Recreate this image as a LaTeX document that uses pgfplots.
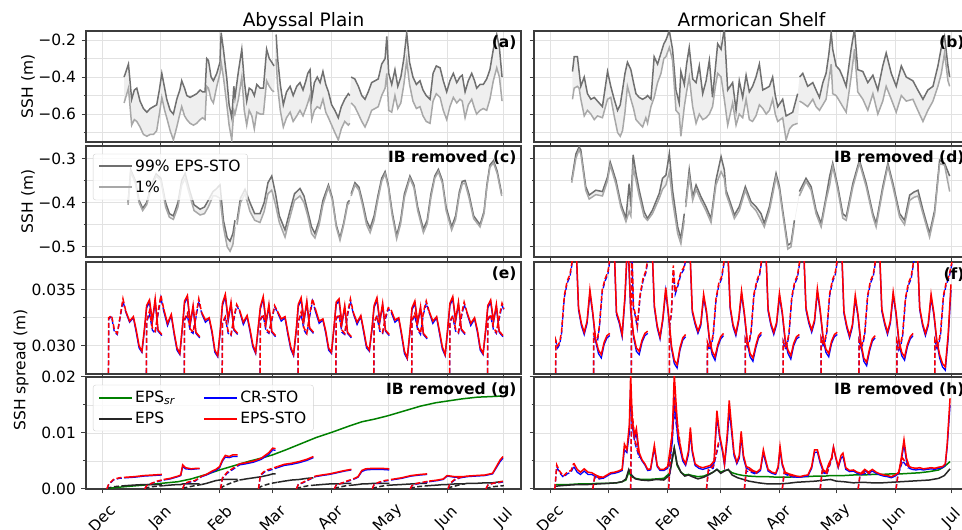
\documentclass[border=0pt]{standalone}
\usepackage{fontspec}
\setmainfont{DejaVu Sans}
\usepackage{pgfplots}
\pgfplotsset{compat=1.18}
\usepackage{pgfplotstable}
\usepgfplotslibrary{fillbetween}

\definecolor{hiline}{HTML}{707070}
\definecolor{loline}{HTML}{A8A8A8}
\definecolor{bandfill}{HTML}{EFEFEF}
\definecolor{gridc}{HTML}{E2E2E2}
\definecolor{framec}{HTML}{3C3C3C}
\definecolor{mplgreen}{HTML}{008000}

\newcommand\fs{\fontsize{15.5}{18}\selectfont}
\newcommand\fst{\fontsize{18.5}{22}\selectfont}

\tikzset{
  hi/.style={hiline, line width=1.5pt},
  lo/.style={loline, line width=1.5pt},
  dsh/.style={dash pattern=on 5pt off 2.5pt},
  rl/.style={red, line width=1.5pt},
  blt/.style={blue, line width=1.3pt},
  kl/.style={black!85, line width=1.5pt},
  gl/.style={mplgreen, line width=1.5pt},
}

\pgfplotsset{
  panel/.style={
    scale only axis, width=435pt, height=111pt,
    xmin=-8.5, xmax=221,
    xtick={0,31,62,90,121,151,182,212}, xticklabels={},
    scaled y ticks=false,
    tick align=outside, tick pos=left,
    major tick length=4.5pt, minor tick length=2.5pt,
    tick style={framec, line width=1pt},
    axis line style={framec, line width=1.1pt},
    grid=both,
    major grid style={gridc, line width=0.9pt},
    minor grid style={gridc, line width=0.9pt},
    tick label style={font=\fs},
    yticklabel style={xshift=-2pt},
    unbounded coords=jump,
  },
  botrow/.style={xticklabels={Dec,Jan,Feb,Mar,Apr,May,Jun,Jul},
    xticklabel style={yshift=-25pt, rotate=45, anchor=center}},
  lgd/.style={legend cell align=left,
    legend image code/.code={\draw[##1, line width=2pt, solid] (0pt,0pt) -- (33pt,0pt);},
    legend style={at={(0.016,0.93)}, anchor=north west, draw=black!18,
    rounded corners=2.5pt, fill=white, fill opacity=0.8, text opacity=1,
    draw opacity=1, font=\fs, inner xsep=5pt, inner ysep=4pt, row sep=4pt}},
}

% ---------- percentiles, Abyssal Plain, full SSH ----------
\pgfplotstableread{
d hi lo
11.6 -0.40 -0.54
13.9 -0.33 -0.46
15.6 -0.52 -0.66
17.0 -0.47 -0.63
18.3 -0.46 -0.64
20.0 -0.53 -0.67
21.8 -0.57 -0.71
23.6 -0.59 -0.72
25.4 -0.57 -0.71
27.1 -0.56 -0.71
28.8 -0.55 -0.69
30.2 -0.47 -0.60
31.5 -0.38 -0.51
33.0 -0.46 -0.58
34.1 -0.52 -0.62
35.9 -0.58 -0.69
37.6 -0.60 -0.74
39.4 -0.52 -0.67
41.0 -0.47 -0.60
42.0 -0.42 -0.56
43.5 -0.46 -0.61
44.7 -0.50 -0.63
46.4 -0.51 -0.65
48.2 -0.50 -0.66
49.9 -0.49 -0.65
51.7 -0.47 -0.63
53.0 -0.48 -0.62
54.3 -0.48 -0.63
55.2 -0.30 -0.45
56.1 -0.31 -0.46
57.5 -0.40 -0.52
58.7 -0.42 -0.54
60.5 -0.38 -0.45
62.2 -0.32 -0.38
62.8 -0.16 -0.32
64.0 -0.25 -0.40
65.8 -0.41 -0.55
67.0 -0.55 -0.66
68.4 -0.62 -0.74
69.5 -0.45 -0.58
70.1 -0.51 -0.60
71.9 -0.37 -0.52
73.7 -0.25 -0.40
75.0 -0.42 -0.58
76.3 -0.53 -0.66
77.6 -0.46 -0.58
79.0 -0.47 -0.61
80.3 -0.50 -0.68
81.6 -0.44 -0.59
83.4 -0.46 -0.60
85.1 -0.46 -0.60
86.8 -0.25 -0.42
88.2 -0.30 -0.45
89.5 -0.32 -0.47
90.7 -0.34 -0.48
91.3 nan nan
91.8 -0.17 -0.30
92.6 -0.30 -0.45
94.0 -0.44 -0.58
95.6 -0.55 -0.67
97.3 -0.48 -0.62
99.2 -0.45 -0.59
100.8 -0.50 -0.64
102.7 -0.45 -0.61
104.4 -0.43 -0.58
106.0 -0.47 -0.61
107.5 -0.42 -0.57
108.5 -0.38 -0.54
109.7 -0.36 -0.50
110.6 -0.52 -0.63
112.0 -0.43 -0.58
113.5 -0.40 -0.56
115.0 -0.43 -0.57
116.5 -0.37 -0.52
118.0 -0.44 -0.59
119.4 -0.48 -0.62
121.1 -0.55 -0.66
122.8 -0.58 -0.70
124.6 -0.62 -0.74
126.2 -0.56 -0.68
128.0 -0.52 -0.64
129.9 -0.49 -0.66
130.7 -0.50 -0.65
131.0 nan nan
131.4 -0.40 -0.54
133.3 -0.41 -0.56
135.2 -0.45 -0.60
137.0 -0.50 -0.64
138.7 -0.52 -0.67
140.4 -0.48 -0.63
142.2 -0.43 -0.58
144.0 -0.42 -0.57
145.7 -0.41 -0.56
147.5 -0.33 -0.50
149.3 -0.30 -0.46
150.2 -0.18 -0.38
151.2 -0.38 -0.58
152.8 -0.44 -0.59
154.5 -0.36 -0.50
156.0 -0.45 -0.57
157.6 -0.40 -0.54
159.2 -0.30 -0.44
160.7 -0.16 -0.31
162.2 -0.32 -0.44
164.0 -0.40 -0.53
165.8 -0.44 -0.57
167.7 -0.42 -0.56
169.3 -0.47 -0.61
171.0 -0.50 -0.64
173.0 -0.52 -0.65
174.6 -0.38 -0.53
176.3 -0.34 -0.49
178.3 -0.35 -0.51
180.0 -0.42 -0.58
181.8 -0.48 -0.63
183.5 -0.42 -0.56
185.3 -0.38 -0.51
187.1 -0.43 -0.54
188.8 -0.40 -0.52
190.0 -0.39 -0.53
191.5 -0.48 -0.62
193.2 -0.42 -0.55
195.0 -0.38 -0.52
196.5 -0.42 -0.57
197.6 -0.46 -0.60
199.4 -0.44 -0.58
201.1 -0.44 -0.57
202.9 -0.41 -0.58
204.6 -0.36 -0.52
206.4 -0.25 -0.42
208.2 -0.17 -0.35
209.6 -0.24 -0.40
211.0 -0.40 -0.53
}\tabA

% ---------- percentiles, Armorican Shelf, full SSH ----------
\pgfplotstableread{
d hi lo
11.8 -0.37 -0.52
12.7 -0.29 -0.46
14.4 -0.29 -0.45
15.3 -0.37 -0.46
16.2 -0.45 -0.52
18.0 -0.40 -0.61
19.7 -0.49 -0.58
21.5 -0.52 -0.60
23.3 -0.51 -0.63
25.0 -0.53 -0.61
27.6 -0.56 -0.62
30.3 -0.37 -0.52
32.0 -0.45 -0.51
33.8 -0.52 -0.61
35.6 -0.58 -0.70
37.0 -0.55 -0.72
38.2 -0.47 -0.69
39.5 -0.38 -0.59
40.8 -0.32 -0.45
42.6 -0.36 -0.52
44.0 -0.43 -0.57
45.3 -0.49 -0.63
47.0 -0.51 -0.65
48.8 -0.52 -0.67
50.5 -0.51 -0.62
51.4 -0.50 -0.65
53.2 -0.52 -0.56
54.9 -0.29 -0.51
56.7 -0.33 -0.43
58.5 -0.27 -0.38
60.0 -0.22 -0.30
61.1 -0.20 -0.29
62.9 -0.15 -0.24
64.6 -0.25 -0.31
66.4 -0.47 -0.58
68.1 -0.54 -0.60
69.0 -0.37 -0.72
70.8 -0.44 -0.56
72.0 -0.33 -0.48
73.4 -0.24 -0.40
75.2 -0.41 -0.56
77.0 -0.43 -0.65
78.7 -0.34 -0.60
80.5 -0.49 -0.63
82.3 -0.42 -0.62
84.0 -0.31 -0.60
85.7 -0.51 -0.56
87.2 -0.35 -0.45
88.4 -0.22 -0.38
90.2 -0.25 -0.40
91.9 -0.14 -0.52
93.7 -0.47 -0.66
95.0 -0.45 -0.60
96.3 -0.43 -0.54
98.1 -0.58 -0.66
99.8 -0.42 -0.60
101.6 -0.51 -0.62
103.4 -0.39 -0.52
105.1 -0.48 -0.63
106.8 -0.45 -0.64
108.6 -0.40 -0.61
110.4 -0.33 -0.55
112.2 -0.47 -0.57
114.0 -0.46 -0.60
115.7 -0.45 -0.58
117.4 -0.40 -0.52
118.8 -0.50 -0.60
120.1 -0.56 -0.64
122.7 -0.52 -0.62
124.5 -0.61 -0.74
126.3 -0.60 -0.68
128.0 -0.59 -0.66
130.6 -0.49 -0.65
131.2 nan nan
131.6 -0.40 -0.53
133.3 -0.38 -0.54
135.9 -0.45 -0.56
138.6 -0.43 -0.52
140.3 -0.47 -0.56
142.1 -0.51 -0.58
143.9 -0.43 -0.55
145.6 -0.38 -0.52
147.0 -0.28 -0.42
148.3 -0.16 -0.33
149.1 -0.25 -0.49
150.9 -0.34 -0.50
152.7 -0.36 -0.53
154.4 -0.40 -0.56
156.2 -0.45 -0.59
158.8 -0.25 -0.40
160.6 -0.14 -0.25
162.3 -0.36 -0.48
165.0 -0.37 -0.52
167.6 -0.43 -0.58
170.3 -0.39 -0.49
172.9 -0.47 -0.60
175.5 -0.34 -0.53
177.3 -0.27 -0.45
180.0 -0.38 -0.52
182.6 -0.45 -0.59
185.3 -0.34 -0.50
187.9 -0.40 -0.53
191.4 -0.42 -0.52
194.0 -0.47 -0.58
196.7 -0.52 -0.64
199.3 -0.47 -0.58
202.0 -0.45 -0.53
204.6 -0.34 -0.45
206.4 -0.24 -0.38
208.1 -0.18 -0.27
209.9 -0.34 -0.42
210.8 -0.40 -0.45
}\tabB

% ---------- percentiles, Abyssal Plain, IB removed ----------
\pgfplotstableread{
d hi lo
13.7 -0.400 -0.405
15.1 -0.326 -0.330
17.5 -0.350 -0.355
19.5 -0.395 -0.400
21.4 -0.413 -0.418
23.5 -0.400 -0.405
26.0 -0.360 -0.365
28.5 -0.335 -0.340
31.0 -0.345 -0.350
33.5 -0.400 -0.410
35.5 -0.425 -0.433
37.6 -0.430 -0.438
40.0 -0.400 -0.410
42.0 -0.350 -0.360
43.8 -0.334 -0.345
46.0 -0.370 -0.380
48.5 -0.405 -0.418
51.7 -0.415 -0.428
54.0 -0.410 -0.425
56.0 -0.395 -0.410
58.5 -0.375 -0.385
60.0 -0.370 -0.385
62.2 -0.360 -0.390
64.0 -0.440 -0.455
66.0 -0.480 -0.500
67.5 -0.487 -0.510
69.0 -0.470 -0.495
70.1 -0.440 -0.455
71.0 nan nan
71.2 -0.440 -0.450
73.0 -0.390 -0.400
75.4 -0.370 -0.380
78.0 -0.400 -0.420
80.5 -0.425 -0.440
83.3 -0.425 -0.445
85.5 -0.400 -0.420
87.5 -0.355 -0.380
89.5 -0.340 -0.372
91.5 -0.380 -0.405
93.5 -0.430 -0.445
96.5 -0.462 -0.478
99.0 -0.420 -0.435
101.5 -0.380 -0.395
104.4 -0.368 -0.385
106.5 -0.385 -0.400
108.5 -0.420 -0.430
110.5 -0.455 -0.470
112.3 -0.470 -0.480
114.5 -0.440 -0.450
116.5 -0.395 -0.405
119.4 -0.360 -0.365
121.5 -0.390 -0.395
123.5 -0.450 -0.455
125.5 -0.480 -0.485
127.5 -0.445 -0.450
129.5 -0.400 -0.405
130.5 -0.395 -0.400
131.0 nan nan
131.4 -0.380 -0.385
133.4 -0.355 -0.360
135.5 -0.365 -0.372
137.5 -0.400 -0.408
139.5 -0.440 -0.450
141.4 -0.458 -0.468
143.5 -0.430 -0.440
145.5 -0.385 -0.393
147.5 -0.345 -0.352
149.3 -0.330 -0.335
151.0 -0.360 -0.365
153.0 -0.420 -0.428
155.4 -0.475 -0.482
157.5 -0.440 -0.448
159.5 -0.380 -0.388
162.4 -0.340 -0.345
164.5 -0.360 -0.366
166.5 -0.410 -0.418
169.5 -0.460 -0.468
171.5 -0.440 -0.448
173.5 -0.380 -0.388
175.5 -0.340 -0.345
177.4 -0.325 -0.330
179.5 -0.350 -0.356
181.5 -0.410 -0.418
184.4 -0.455 -0.462
186.5 -0.430 -0.438
188.5 -0.375 -0.382
190.0 -0.352 -0.358
191.5 -0.350 -0.356
193.5 -0.380 -0.388
196.0 -0.430 -0.436
199.4 -0.450 -0.455
201.5 -0.420 -0.425
203.0 -0.360 -0.365
204.6 -0.315 -0.320
206.5 -0.305 -0.310
208.5 -0.330 -0.335
210.8 -0.380 -0.385
}\tabC

% ---------- percentiles, Armorican Shelf, IB removed ----------
\pgfplotstableread{
d hi lo
11.4 -0.349 -0.355
13.6 -0.290 -0.300
15.3 -0.274 -0.280
16.2 -0.281 -0.290
18.8 -0.364 -0.372
20.6 -0.383 -0.392
24.1 -0.372 -0.382
27.6 -0.375 -0.385
30.3 -0.342 -0.350
31.7 -0.308 -0.315
34.7 -0.349 -0.358
37.3 -0.402 -0.410
40.0 -0.436 -0.443
41.7 -0.357 -0.420
42.6 -0.409 -0.430
43.8 -0.292 -0.320
45.3 -0.334 -0.350
47.0 -0.372 -0.385
49.6 -0.421 -0.432
51.4 -0.436 -0.440
54.0 -0.417 -0.425
57.6 -0.379 -0.390
59.3 -0.345 -0.370
61.1 -0.338 -0.360
62.9 -0.289 -0.330
64.6 -0.372 -0.395
67.3 -0.455 -0.470
69.0 -0.481 -0.493
70.8 -0.425 -0.440
71.3 nan nan
71.6 -0.400 -0.410
73.4 -0.326 -0.340
75.2 -0.387 -0.395
77.0 -0.360 -0.370
79.6 -0.387 -0.396
82.2 -0.409 -0.418
84.9 -0.436 -0.445
87.5 -0.349 -0.360
90.2 -0.296 -0.330
91.9 -0.326 -0.345
92.8 -0.372 -0.380
94.6 -0.394 -0.402
97.2 -0.428 -0.436
99.8 -0.409 -0.418
103.0 -0.364 -0.372
106.0 -0.398 -0.406
108.6 -0.409 -0.418
111.3 -0.425 -0.440
113.0 -0.447 -0.455
115.7 -0.409 -0.418
117.5 -0.370 -0.380
119.2 -0.334 -0.342
121.0 -0.364 -0.372
122.7 -0.417 -0.425
125.4 -0.496 -0.505
127.1 -0.492 -0.500
128.9 -0.440 -0.447
131.2 nan nan
131.5 -0.375 -0.385
135.0 -0.345 -0.352
137.7 -0.364 -0.372
140.3 -0.417 -0.425
143.0 -0.447 -0.455
145.6 -0.387 -0.395
147.5 -0.340 -0.360
149.1 -0.311 -0.318
151.8 -0.364 -0.372
154.4 -0.425 -0.435
156.2 -0.432 -0.440
159.7 -0.357 -0.365
163.2 -0.304 -0.310
166.8 -0.357 -0.365
170.3 -0.425 -0.432
172.0 -0.447 -0.455
175.5 -0.364 -0.372
178.2 -0.311 -0.317
180.9 -0.357 -0.365
184.4 -0.425 -0.433
187.0 -0.440 -0.450
189.7 -0.383 -0.395
192.0 -0.376 -0.388
194.1 -0.372 -0.385
196.7 -0.417 -0.425
200.2 -0.470 -0.478
202.9 -0.417 -0.425
205.5 -0.304 -0.312
208.1 -0.311 -0.315
210.8 -0.340 -0.375
}\tabD

% ---------- spread, Abyssal Plain, full SSH: solid / dashed ----------
\pgfplotstableread{
d r b
12.5 .0331 .0330
14.5 .0322 .0321
16.5 .0326 .0325
18 .0314 .0312
19.5 .0300 .0298
21 .0295 .0294
22.5 .0318 .0316
23.5 .0336 .0334
25 .0341 .0339
26.5 .0322 .0321
28 .0342 .0340
29.5 .0314 .0313
31.5 .0310 .0309
32 nan nan
32.5 .0333 .0331
34.5 .0320 .0318
36.5 .0328 .0327
38 .0312 .0310
39.5 .0298 .0296
41 .0293 .0292
42.5 .0320 .0318
43.5 .0340 .0338
45 .0345 .0343
46.5 .0320 .0319
48 .0336 .0334
49.5 .0312 .0311
51.5 .0308 .0307
52 nan nan
52.5 .0330 .0329
54.5 .0323 .0321
56.5 .0325 .0324
58 .0313 .0311
59.5 .0296 .0294
61 .0291 .0290
62.5 .0317 .0315
63.5 .0338 .0336
65 .0346 .0344
66.5 .0324 .0322
68 .0339 .0337
69.5 .0315 .0314
71.5 .0311 .0310
72 nan nan
72.5 .0332 .0331
74.5 .0321 .0319
76.5 .0327 .0326
78 .0315 .0313
79.5 .0301 .0299
81 .0294 .0293
82.5 .0319 .0317
83.5 .0335 .0333
85 .0344 .0342
86.5 .0321 .0320
88 .0337 .0335
89.5 .0313 .0312
91.5 .0309 .0308
92 nan nan
92.5 .0331 .0330
94.5 .0324 .0322
96.5 .0326 .0325
98 .0312 .0310
99.5 .0299 .0297
101 .0292 .0291
102.5 .0316 .0314
103.5 .0337 .0335
105 .0343 .0341
106.5 .0323 .0322
108 .0340 .0338
109.5 .0316 .0315
111.5 .0312 .0311
112 nan nan
112.5 .0333 .0331
114.5 .0322 .0320
116.5 .0324 .0323
118 .0313 .0311
119.5 .0298 .0296
121 .0294 .0293
122.5 .0320 .0318
123.5 .0339 .0337
125 .0342 .0340
126.5 .0320 .0319
128 .0336 .0334
129.5 .0312 .0311
131.5 .0308 .0307
132 nan nan
132.5 .0330 .0329
134.5 .0321 .0319
136.5 .0327 .0326
138 .0314 .0312
139.5 .0300 .0298
141 .0296 .0295
142.5 .0318 .0316
143.5 .0336 .0334
145 .0343 .0341
146.5 .0322 .0321
148 .0338 .0336
149.5 .0314 .0313
151.5 .0310 .0309
152 nan nan
152.5 .0332 .0330
154.5 .0323 .0321
156.5 .0325 .0324
158 .0311 .0309
159.5 .0295 .0293
161 .0289 .0288
162.5 .0315 .0313
163.5 .0334 .0332
165 .0340 .0338
166.5 .0321 .0320
168 .0335 .0333
169.5 .0311 .0310
171.5 .0307 .0306
172 nan nan
172.5 .0331 .0330
174.5 .0322 .0320
176.5 .0326 .0325
178 .0313 .0311
179.5 .0299 .0297
181 .0292 .0291
182.5 .0319 .0317
183.5 .0338 .0336
185 .0344 .0342
186.5 .0323 .0322
188 .0339 .0337
189.5 .0315 .0314
191.5 .0311 .0310
192 nan nan
192.5 .0330 .0329
194.5 .0320 .0318
196.5 .0325 .0324
198 .0314 .0312
199.5 .0298 .0296
201 .0293 .0292
202.5 .0317 .0315
203.5 .0336 .0334
205 .0341 .0339
206.5 .0322 .0321
208 .0337 .0335
209.5 .0313 .0312
211.5 .0309 .0308
}\tabEs

\pgfplotstableread{
d r b
2.5 0 0
3.5 .0325 .0324
5 .0327 .0326
6.5 .0314 .0312
8 .0311 .0310
9.5 .0326 .0325
11 .0342 .0340
12.5 .0331 .0330
13 nan nan
22.5 0 0
23.5 .0322 .0321
25 .0331 .0329
26.5 .0316 .0314
28 .0313 .0311
29.5 .0330 .0328
31 .0345 .0343
32.5 .0333 .0331
33 nan nan
42.5 0 0
43.5 .0324 .0323
45 .0329 .0327
46.5 .0315 .0313
48 .0312 .0311
49.5 .0327 .0325
51 .0342 .0340
52.5 .0330 .0329
53 nan nan
62.5 0 0
63.5 .0321 .0320
65 .0326 .0325
66.5 .0313 .0311
68 .0310 .0309
69.5 .0325 .0323
71 .0337 .0336
72.5 .0332 .0331
73 nan nan
82.5 0 0
83.5 .0324 .0323
85 .0328 .0327
86.5 .0315 .0313
88 .0312 .0311
89.5 .0324 .0322
91 .0336 .0335
92.5 .0331 .0330
93 nan nan
102.5 0 0
103.5 .0322 .0321
105 .0330 .0328
106.5 .0316 .0314
108 .0311 .0310
109.5 .0328 .0326
111 .0342 .0340
112.5 .0333 .0331
113 nan nan
122.5 0 0
123.5 .0325 .0324
125 .0328 .0327
126.5 .0314 .0312
128 .0311 .0310
129.5 .0329 .0327
131 .0342 .0340
132.5 .0330 .0329
133 nan nan
142.5 0 0
143.5 .0321 .0320
145 .0327 .0326
146.5 .0315 .0313
148 .0312 .0311
149.5 .0326 .0324
151 .0334 .0333
152.5 .0332 .0330
153 nan nan
162.5 0 0
163.5 .0323 .0322
165 .0329 .0327
166.5 .0316 .0314
168 .0311 .0310
169.5 .0330 .0328
171 .0340 .0338
172.5 .0331 .0330
173 nan nan
182.5 0 0
183.5 .0322 .0321
185 .0327 .0326
186.5 .0315 .0313
188 .0312 .0311
189.5 .0327 .0325
191 .0339 .0337
192.5 .0330 .0329
193 nan nan
202.5 0 0
203.5 .0324 .0323
205 .0328 .0327
206.5 .0316 .0314
208 .0312 .0311
209.5 .0326 .0324
211 .0338 .0336
212 .0333 .0332
}\tabEd

% ---------- spread, Armorican Shelf, full SSH: solid / dashed ----------
\pgfplotstableread{
d r b
12.5 .0385 .0383
13.5 .0400 .0398
15 .0334 .0332
16.5 .0320 .0318
18 .0312 .0310
19.5 .0322 .0320
21 .0350 .0347
22.5 .0330 .0328
24 .0306 .0304
25.5 .0296 .0293
27 .0292 .0289
28.5 .0303 .0301
30 .0309 .0307
31.5 .0311 .0309
32 nan nan
32.5 .0390 .0388
33.5 .0405 .0403
35 .0330 .0328
36.5 .0322 .0320
38 .0310 .0308
39.5 .0345 .0342
41 .0400 .0396
42.5 .0334 .0331
44 .0310 .0308
45.5 .0298 .0295
47 .0295 .0292
48.5 .0305 .0303
50 .0311 .0309
51.5 .0313 .0311
52 nan nan
52.5 .0388 .0386
53.5 .0402 .0400
55 .0336 .0334
56.5 .0318 .0316
58 .0308 .0306
59.5 .0325 .0323
61 .0352 .0349
62.5 .0328 .0326
64 .0300 .0298
65.5 .0287 .0284
67 .0283 .0280
68.5 .0298 .0296
70 .0307 .0305
71.5 .0310 .0308
72 nan nan
72.5 .0386 .0384
73.5 .0398 .0396
75 .0332 .0330
76.5 .0321 .0319
78 .0313 .0311
79.5 .0320 .0318
81 .0346 .0343
82.5 .0331 .0329
84 .0307 .0305
85.5 .0295 .0292
87 .0290 .0287
88.5 .0301 .0299
90 .0308 .0306
91.5 .0311 .0309
92 nan nan
92.5 .0384 .0382
93.5 .0396 .0394
95 .0335 .0333
96.5 .0319 .0317
98 .0311 .0309
99.5 .0324 .0322
101 .0349 .0346
102.5 .0329 .0327
104 .0305 .0303
105.5 .0293 .0290
107 .0289 .0286
108.5 .0300 .0298
110 .0309 .0307
111.5 .0312 .0310
112 nan nan
112.5 .0387 .0385
113.5 .0401 .0399
115 .0333 .0331
116.5 .0320 .0318
118 .0312 .0310
119.5 .0321 .0319
121 .0347 .0344
122.5 .0330 .0328
124 .0306 .0304
125.5 .0296 .0293
127 .0291 .0288
128.5 .0302 .0300
130 .0308 .0306
131.5 .0310 .0308
132 nan nan
132.5 .0385 .0383
133.5 .0399 .0397
135 .0334 .0332
136.5 .0322 .0320
138 .0314 .0312
139.5 .0323 .0321
141 .0351 .0348
142.5 .0332 .0330
144 .0308 .0306
145.5 .0297 .0294
147 .0293 .0290
148.5 .0304 .0302
150 .0310 .0308
151.5 .0312 .0310
152 nan nan
152.5 .0389 .0387
153.5 .0403 .0401
155 .0331 .0329
156.5 .0318 .0316
158 .0309 .0307
159.5 .0319 .0317
161 .0345 .0342
162.5 .0327 .0325
164 .0302 .0300
165.5 .0289 .0286
167 .0285 .0282
168.5 .0297 .0295
170 .0306 .0304
171.5 .0309 .0307
172 nan nan
172.5 .0386 .0384
173.5 .0400 .0398
175 .0333 .0331
176.5 .0321 .0319
178 .0312 .0310
179.5 .0322 .0320
181 .0348 .0345
182.5 .0330 .0328
184 .0305 .0303
185.5 .0294 .0291
187 .0290 .0287
188.5 .0301 .0299
190 .0308 .0306
191.5 .0311 .0309
192 nan nan
192.5 .0384 .0382
193.5 .0397 .0395
195 .0334 .0332
196.5 .0320 .0318
198 .0311 .0309
199.5 .0320 .0318
201 .0346 .0343
202.5 .0329 .0327
204 .0305 .0303
205.5 .0292 .0289
207 .0284 .0281
208.5 .0281 .0278
210 .0310 .0306
211.5 .0355 .0350
}\tabFs

\pgfplotstableread{
d r b
2.5 0 0
3 .0305 .0304
4 .0300 .0298
5 .0303 .0301
6 .0312 .0310
7.5 .0345 .0343
9 .0358 .0356
10.5 .0364 .0362
12.5 .0385 .0383
13 nan nan
22.5 0 0
23 .0310 .0309
24 .0307 .0305
25 .0306 .0304
26 .0318 .0316
27.5 .0350 .0348
29 .0360 .0358
30.5 .0366 .0364
32.5 .0390 .0388
33 nan nan
42.5 0 0
43 .0395 .0390
44 .0335 .0333
45 .0328 .0326
46 .0318 .0316
47.5 .0346 .0344
49 .0360 .0358
50.5 .0367 .0365
52.5 .0388 .0386
53 nan nan
62.5 0 0
63 .0318 .0317
64 .0330 .0328
65 .0372 .0368
66 .0348 .0346
67.5 .0356 .0354
69 .0366 .0364
70.5 .0370 .0368
72.5 .0386 .0384
73 nan nan
82.5 0 0
83 .0303 .0302
84 .0298 .0296
85 .0302 .0300
86 .0310 .0308
87.5 .0342 .0340
89 .0356 .0354
90.5 .0362 .0360
92.5 .0384 .0382
93 nan nan
102.5 0 0
103 .0306 .0305
104 .0301 .0299
105 .0304 .0302
106 .0313 .0311
107.5 .0346 .0344
109 .0358 .0356
110.5 .0365 .0363
112.5 .0387 .0385
113 nan nan
122.5 0 0
123 .0304 .0303
124 .0299 .0297
125 .0302 .0300
126 .0311 .0309
127.5 .0344 .0342
129 .0357 .0355
130.5 .0363 .0361
132.5 .0385 .0383
133 nan nan
142.5 0 0
143 .0307 .0306
144 .0302 .0300
145 .0305 .0303
146 .0314 .0312
147.5 .0347 .0345
149 .0359 .0357
150.5 .0366 .0364
152.5 .0389 .0387
153 nan nan
162.5 0 0
163 .0305 .0304
164 .0300 .0298
165 .0303 .0301
166 .0312 .0310
167.5 .0345 .0343
169 .0358 .0356
170.5 .0364 .0362
172.5 .0386 .0384
173 nan nan
182.5 0 0
183 .0304 .0303
184 .0298 .0296
185 .0302 .0300
186 .0311 .0309
187.5 .0343 .0341
189 .0356 .0354
190.5 .0362 .0360
192.5 .0384 .0382
193 nan nan
202.5 0 0
203 .0305 .0304
204 .0300 .0298
205 .0303 .0301
206 .0312 .0310
207.5 .0345 .0343
209 .0357 .0355
210.5 .0363 .0361
212 .0375 .0373
}\tabFd

% ---------- spread, Abyssal Plain, IB removed ----------
\pgfplotstableread{
d r b k
12.5 .0021 .0020 .0006
17 .0022 .0021 .0007
22 .0024 .0023 .0008
27 .0025 .0024 .0008
31.5 .0026 .0025 .0008
32 nan nan nan
32.5 .0017 .0016 .0006
36 .0019 .0018 .0007
40 .0023 .0022 .0008
41.5 .0025 .0024 .0008
42.5 .0043 .0040 .0009
44 .0038 .0036 .0009
47 .0036 .0035 .0009
50 .0037 .0036 .0009
51.5 .0037 .0036 .0009
52 nan nan nan
52.5 .0023 .0022 .0008
55 .0026 .0025 .0010
58 .0032 .0030 .0013
60 .0035 .0033 .0015
62 .0040 .0038 .0016
63.5 .0052 .0050 .0017
65 .0060 .0057 .0017
67 .0058 .0056 .0017
69 .0061 .0058 .0017
71.5 .0061 .0058 .0017
72 nan nan nan
72.5 .0045 .0043 .0016
76 .0047 .0045 .0018
80 .0050 .0048 .0020
84 .0055 .0053 .0022
88 .0065 .0062 .0025
90 .0073 .0070 .0027
91.5 .0072 .0069 .0027
92 nan nan nan
92.5 .0040 .0038 .0012
96 .0044 .0042 .0014
100 .0046 .0044 .0016
104 .0049 .0047 .0017
108 .0053 .0051 .0019
111.5 .0058 .0056 .0020
112 nan nan nan
112.5 .0023 .0022 .0007
116 .0025 .0024 .0008
120 .0027 .0026 .0009
124 .0030 .0029 .0009
128 .0033 .0032 .0010
131.5 .0035 .0034 .0010
132 nan nan nan
132.5 .0018 .0017 .0007
135 .0022 .0021 .0008
137 .0033 .0031 .0009
139 .0036 .0034 .0009
143 .0037 .0035 .0010
147 .0037 .0035 .0010
151.5 .0036 .0034 .0010
152 nan nan nan
152.5 .0017 .0016 .0007
158 .0020 .0019 .0008
163 .0024 .0023 .0009
168 .0026 .0025 .0010
171.5 .0027 .0026 .0010
172 nan nan nan
172.5 .0014 .0013 .0006
177 .0016 .0015 .0007
180 .0018 .0017 .0008
182 .0024 .0023 .0008
186 .0022 .0021 .0009
191.5 .0022 .0021 .0009
192 nan nan nan
192.5 .0023 .0022 .0010
197 .0024 .0023 .0010
202 .0025 .0024 .0011
206 .0028 .0027 .0011
208 .0040 .0038 .0012
210 .0052 .0049 .0013
211.5 .0058 .0055 .0013
}\tabGs

\pgfplotstableread{
d r b k
2.5 0 0 0
3.5 .0009 .0008 .0002
6 .0017 .0016 .0004
9 .0020 .0019 .0005
12.5 .0021 .0020 .0006
13 nan nan nan
22.5 0 0 0
23.5 .0006 .0006 .0002
26 .0010 .0010 .0004
29 .0014 .0013 .0005
32.5 .0017 .0016 .0006
33 nan nan nan
42.5 0 0 0
43.5 .0010 .0009 .0002
46 .0013 .0012 .0004
49 .0015 .0014 .0006
52.5 .0023 .0022 .0008
53 nan nan nan
62.5 0 0 0
63.5 .0020 .0019 .0004
66 .0030 .0028 .0008
69 .0037 .0035 .0012
72.5 .0045 .0043 .0016
73 nan nan nan
82.5 0 0 0
83.5 .0025 .0024 .0004
86 .0033 .0031 .0007
89 .0036 .0034 .0010
92.5 .0040 .0038 .0012
93 nan nan nan
102.5 0 0 0
103.5 .0008 .0008 .0002
106 .0012 .0011 .0004
109 .0017 .0016 .0006
112.5 .0023 .0022 .0007
113 nan nan nan
122.5 0 0 0
123.5 .0007 .0007 .0002
126 .0010 .0010 .0004
129 .0014 .0013 .0006
132.5 .0018 .0017 .0007
133 nan nan nan
142.5 0 0 0
143.5 .0008 .0008 .0002
146 .0012 .0011 .0004
149 .0015 .0014 .0006
152.5 .0017 .0016 .0007
153 nan nan nan
162.5 0 0 0
163.5 .0006 .0006 .0002
166 .0010 .0009 .0004
169 .0012 .0011 .0005
172.5 .0014 .0013 .0006
173 nan nan nan
182.5 0 0 0
183.5 .0010 .0009 .0003
186 .0017 .0016 .0005
189 .0021 .0020 .0008
192.5 .0023 .0022 .0010
193 nan nan nan
202.5 0 0 0
203.5 .0007 .0007 .0002
206 .0010 .0010 .0004
209 .0012 .0011 .0005
212 .0014 .0013 .0006
}\tabGd

\pgfplotstableread{
d g
3 .0001
8 .0003
15 .0005
22 .0007
31 .0010
40 .0013
47 .0018
55 .0026
62 .0034
70 .0042
78 .0050
85 .0056
90 .0061
97 .0070
105 .0081
113 .0092
121 .0101
130 .0112
137 .0120
144 .0125
151 .0131
160 .0140
168 .0148
176 .0154
182 .0157
190 .0161
198 .0164
205 .0165
211 .0166
}\tabGg

% ---------- spread, Armorican Shelf, IB removed ----------
\pgfplotstableread{
d r b
12.5 .0046 .0040
14.3 .0035 .0030
16 .0030 .0026
18 .0036 .0032
20 .0030 .0026
22 .0029 .0026
24 .0025 .0022
26 .0022 .0020
28 .0021 .0019
30 .0025 .0023
32 .0029 .0027
34 .0030 .0028
36 .0032 .0030
38 .0035 .0033
39.2 .0080 .0070
40.5 .0070 .0065
41.8 .0115 .0100
42.5 .0205 .0180
43.3 .0125 .0115
44.5 .0095 .0090
45.5 .0108 .0100
47 .0065 .0060
48.5 .0052 .0050
50 .0045 .0043
51.5 .0035 .0033
53 .0036 .0034
55 .0078 .0073
56.5 .0042 .0040
58 .0035 .0033
60 .0035 .0033
62 .0040 .0037
63.5 .0075 .0060
64.5 .0100 .0085
65.5 .0205 .0165
66.5 .0150 .0125
67.5 .0100 .0085
68.5 .0080 .0072
70 .0055 .0050
71.5 .0045 .0042
73 .0068 .0062
74 .0110 .0100
75 .0070 .0065
76.5 .0045 .0042
78.5 .0040 .0037
80.5 .0038 .0035
82.5 .0040 .0037
84.5 .0042 .0039
86.5 .0050 .0046
88 .0140 .0130
89.5 .0095 .0090
91 .0070 .0065
92 .0045 .0042
93.5 .0100 .0090
94.5 .0158 .0140
95.5 .0120 .0110
97 .0065 .0060
98.5 .0048 .0045
99.8 .0060 .0055
100.8 .0103 .0095
102 .0060 .0055
103.5 .0040 .0037
105 .0038 .0035
107 .0033 .0030
109 .0030 .0028
111 .0036 .0033
112.5 .0070 .0065
113.5 .0055 .0050
115 .0035 .0032
117 .0030 .0028
119 .0028 .0026
120.3 .0040 .0037
121.3 .0076 .0070
122.5 .0045 .0042
124 .0030 .0028
126 .0027 .0025
128 .0025 .0023
130 .0023 .0021
132 .0022 .0021
134 .0024 .0022
136 .0025 .0023
138 .0040 .0037
139.5 .0070 .0065
141 .0070 .0066
142.5 .0050 .0046
144 .0035 .0032
145.5 .0030 .0028
147 .0045 .0042
148.5 .0055 .0055
149.5 .0075 .0075
150.5 .0060 .0058
152 .0040 .0038
153.5 .0060 .0055
154.5 .0064 .0058
156 .0038 .0035
158 .0033 .0031
160 .0034 .0032
162 .0030 .0028
164 .0028 .0026
166 .0035 .0033
168 .0030 .0028
170 .0035 .0032
172 .0030 .0028
174 .0027 .0025
176 .0025 .0023
178 .0024 .0022
180 .0022 .0020
182 .0025 .0023
184 .0030 .0028
185.5 .0060 .0055
186.7 .0088 .0080
188 .0055 .0050
189.5 .0040 .0037
191 .0038 .0035
193 .0037 .0034
195 .0038 .0035
197 .0036 .0034
199 .0037 .0035
201 .0038 .0036
203 .0037 .0035
205 .0039 .0037
207 .0040 .0038
208.5 .0045 .0043
209.5 .0080 .0075
210.5 .0135 .0125
211 .0162 .0150
}\tabHs

\pgfplotstableread{
d r b
2.5 0 0
3.5 .0043 .0040
5 .0032 .0029
7 .0023 .0021
9 .0030 .0027
11 .0033 .0030
12.5 .0046 .0040
13 nan nan
22.5 0 0
23.5 .0022 .0020
26 .0020 .0018
29 .0022 .0020
30 nan nan
42.5 0 0
43 .0150 .0135
44.5 .0090 .0085
47 .0060 .0056
48 nan nan
62.5 0 0
63.5 .0060 .0050
65.5 .0160 .0140
67 .0120 .0105
69 .0070 .0064
70 nan nan
82.5 0 0
83.5 .0035 .0032
86 .0040 .0037
89 .0085 .0080
90 nan nan
102.5 0 0
103.5 .0035 .0032
106 .0033 .0030
109 .0028 .0026
110 nan nan
122.5 0 0
123.5 .0030 .0028
126 .0025 .0023
129 .0023 .0021
130 nan nan
142.5 0 0
143.5 .0032 .0030
146 .0028 .0026
149 .0060 .0058
150 nan nan
162.5 0 0
163.5 .0026 .0024
166 .0030 .0028
169 .0028 .0026
170 nan nan
182.5 0 0
183.5 .0026 .0024
186 .0055 .0050
189 .0040 .0037
}\tabHd

\pgfplotstableread{
d k g
3 .0005 .0008
6 .0006 .0008
10 .0007 .0008
15 .0008 .0009
20 .0008 .0009
25 .0009 .0010
30 .0010 .0010
35 .0011 .0011
38 .0013 .0013
40 .0018 .0016
41.5 .0035 .0030
43 .0025 .0022
45 .0018 .0019
48 .0016 .0017
52 .0015 .0017
56 .0017 .0018
60 .0016 .0019
63 .0025 .0028
65.5 .0073 .0073
67 .0045 .0042
69 .0030 .0030
71 .0023 .0025
73 .0025 .0026
75 .0022 .0024
78 .0018 .0022
81 .0021 .0023
84 .0026 .0027
86 .0030 .0030
88 .0035 .0035
90 .0028 .0030
92 .0032 .0033
94 .0035 .0034
96 .0025 .0029
99 .0020 .0026
102 .0017 .0024
105 .0014 .0023
110 .0011 .0022
115 .0009 .0022
120 .0009 .0021
125 .0010 .0021
130 .0012 .0022
135 .0013 .0022
140 .0014 .0023
145 .0016 .0023
148 .0017 .0024
151 .0014 .0024
155 .0013 .0024
160 .0011 .0025
165 .0012 .0025
170 .0011 .0026
175 .0011 .0026
180 .0012 .0027
185 .0013 .0027
190 .0014 .0028
195 .0015 .0029
200 .0016 .0031
205 .0019 .0034
208 .0024 .0040
211 .0036 .0049
}\tabHk

\begin{document}
\begin{tikzpicture}

% ===== row 1 =====
\begin{axis}[panel, at={(86pt,388pt)}, anchor=south west,
  ymin=-0.751, ymax=-0.151,
  ytick={-0.6,-0.4,-0.2}, yticklabels={−0.6,−0.4,−0.2},
  minor ytick={-0.7,-0.5,-0.3}]
\addplot[draw=none, name path=ahi, unbounded coords=discard, forget plot] table[x=d, y=hi] {\tabA};
\addplot[draw=none, name path=alo, unbounded coords=discard, forget plot] table[x=d, y=lo] {\tabA};
\addplot[bandfill, forget plot] fill between[of=ahi and alo];
\addplot[hi, forget plot] table[x=d, y=hi] {\tabA};
\addplot[lo, forget plot] table[x=d, y=lo] {\tabA};
\node[anchor=north east, font=\fs\bfseries, inner sep=0pt] at (rel axis cs:0.99,0.955) {(a)};
\end{axis}

\begin{axis}[panel, at={(534pt,388pt)}, anchor=south west,
  ymin=-0.751, ymax=-0.151,
  ytick={-0.6,-0.4,-0.2}, yticklabels={},
  minor ytick={-0.7,-0.5,-0.3}]
\addplot[draw=none, name path=bhi, unbounded coords=discard, forget plot] table[x=d, y=hi] {\tabB};
\addplot[draw=none, name path=blo, unbounded coords=discard, forget plot] table[x=d, y=lo] {\tabB};
\addplot[bandfill, forget plot] fill between[of=bhi and blo];
\addplot[hi, forget plot] table[x=d, y=hi] {\tabB};
\addplot[lo, forget plot] table[x=d, y=lo] {\tabB};
\node[anchor=north east, font=\fs\bfseries, inner sep=0pt] at (rel axis cs:0.99,0.955) {(b)};
\end{axis}

% ===== row 2 =====
\begin{axis}[panel, lgd, at={(86pt,273pt)}, anchor=south west,
  ymin=-0.523, ymax=-0.272,
  ytick={-0.5,-0.4,-0.3}, yticklabels={−0.5,−0.4,−0.3},
  minor ytick={-0.45,-0.35}]
\addplot[draw=none, name path=chi, unbounded coords=discard, forget plot] table[x=d, y=hi] {\tabC};
\addplot[draw=none, name path=clo, unbounded coords=discard, forget plot] table[x=d, y=lo] {\tabC};
\addplot[bandfill, forget plot] fill between[of=chi and clo];
\addplot[hi] table[x=d, y=hi] {\tabC};
\addlegendentry{99\% EPS-STO}
\addplot[lo] table[x=d, y=lo] {\tabC};
\addlegendentry{1\%}
\node[anchor=north east, font=\fs\bfseries, inner sep=0pt] at (rel axis cs:0.99,0.955) {IB removed (c)};
\end{axis}

\begin{axis}[panel, at={(534pt,273pt)}, anchor=south west,
  ymin=-0.523, ymax=-0.272,
  ytick={-0.5,-0.4,-0.3}, yticklabels={},
  minor ytick={-0.45,-0.35}]
\addplot[draw=none, name path=dhi, unbounded coords=discard, forget plot] table[x=d, y=hi] {\tabD};
\addplot[draw=none, name path=dlo, unbounded coords=discard, forget plot] table[x=d, y=lo] {\tabD};
\addplot[bandfill, forget plot] fill between[of=dhi and dlo];
\addplot[hi, forget plot] table[x=d, y=hi] {\tabD};
\addplot[lo, forget plot] table[x=d, y=lo] {\tabD};
\node[anchor=north east, font=\fs\bfseries, inner sep=0pt] at (rel axis cs:0.99,0.955) {IB removed (d)};
\end{axis}

% ===== row 3 =====
\begin{axis}[panel, at={(86pt,156pt)}, anchor=south west, height=112pt,
  ymin=0.02746, ymax=0.0375,
  ytick={0.030,0.035}, yticklabels={0.030,0.035},
  minor ytick={0.0325}]
\addplot[blt, dsh, forget plot] table[x=d, y=b] {\tabEd};
\addplot[blt, forget plot] table[x=d, y=b] {\tabEs};
\addplot[rl, dsh, forget plot] table[x=d, y=r] {\tabEd};
\addplot[rl, forget plot] table[x=d, y=r] {\tabEs};
\node[anchor=north east, font=\fs\bfseries, inner sep=0pt] at (rel axis cs:0.99,0.955) {(e)};
\end{axis}

\begin{axis}[panel, at={(534pt,156pt)}, anchor=south west, height=112pt,
  ymin=0.02746, ymax=0.0375,
  ytick={0.030,0.035}, yticklabels={},
  minor ytick={0.0325}]
\addplot[blt, dsh, forget plot] table[x=d, y=b] {\tabFd};
\addplot[blt, forget plot] table[x=d, y=b] {\tabFs};
\addplot[rl, dsh, forget plot] table[x=d, y=r] {\tabFd};
\addplot[rl, forget plot] table[x=d, y=r] {\tabFs};
\node[anchor=north east, font=\fs\bfseries, inner sep=0pt] at (rel axis cs:0.99,0.955) {(f)};
\end{axis}

% ===== row 4 =====
\begin{axis}[panel, botrow, lgd, at={(86pt,41pt)}, anchor=south west, height=112pt,
  ymin=0, ymax=0.02,
  ytick={0,0.01,0.02}, yticklabels={0.00,0.01,0.02},
  minor ytick={0.005,0.015},
  legend columns=2, transpose legend,
  legend style={/tikz/every even column/.append style={column sep=26pt}}]
\addplot[gl] table[x=d, y=g] {\tabGg};
\addlegendentry{EPS\textsubscript{\textit{sr}}}
\addplot[kl, dsh, forget plot] table[x=d, y=k] {\tabGd};
\addplot[kl] table[x=d, y=k] {\tabGs};
\addlegendentry{EPS}
\addplot[blt, dsh, forget plot] table[x=d, y=b] {\tabGd};
\addplot[blt] table[x=d, y=b] {\tabGs};
\addlegendentry{CR-STO}
\addplot[rl, dsh, forget plot] table[x=d, y=r] {\tabGd};
\addplot[rl] table[x=d, y=r] {\tabGs};
\addlegendentry{EPS-STO}
\node[anchor=north east, font=\fs\bfseries, inner sep=0pt] at (rel axis cs:0.99,0.955) {IB removed (g)};
\end{axis}

\begin{axis}[panel, botrow, at={(534pt,41pt)}, anchor=south west, height=112pt,
  ymin=0, ymax=0.02,
  ytick={0,0.01,0.02}, yticklabels={},
  minor ytick={0.005,0.015}]
\addplot[gl, forget plot] table[x=d, y=g] {\tabHk};
\addplot[kl, forget plot] table[x=d, y=k] {\tabHk};
\addplot[blt, dsh, forget plot] table[x=d, y=b] {\tabHd};
\addplot[blt, forget plot] table[x=d, y=b] {\tabHs};
\addplot[rl, dsh, forget plot] table[x=d, y=r] {\tabHd};
\addplot[rl, forget plot] table[x=d, y=r] {\tabHs};
\node[anchor=north east, font=\fs\bfseries, inner sep=0pt] at (rel axis cs:0.99,0.955) {IB removed (h)};
\end{axis}

% ===== titles and axis labels =====
\node[font=\fst, anchor=base] at (303.5pt,503pt) {Abyssal Plain};
\node[font=\fst, anchor=base] at (751.5pt,503pt) {Armorican Shelf};
\node[font=\fs, rotate=90] at (28pt,443.5pt) {SSH (m)};
\node[font=\fs, rotate=90] at (28pt,328.5pt) {SSH (m)};
\node[font=\fs, rotate=90] at (21pt,160pt) {SSH spread (m)};

\pgfresetboundingbox
\path[use as bounding box] (0pt,0pt) rectangle (962pt,530pt);
\end{tikzpicture}
\end{document}
